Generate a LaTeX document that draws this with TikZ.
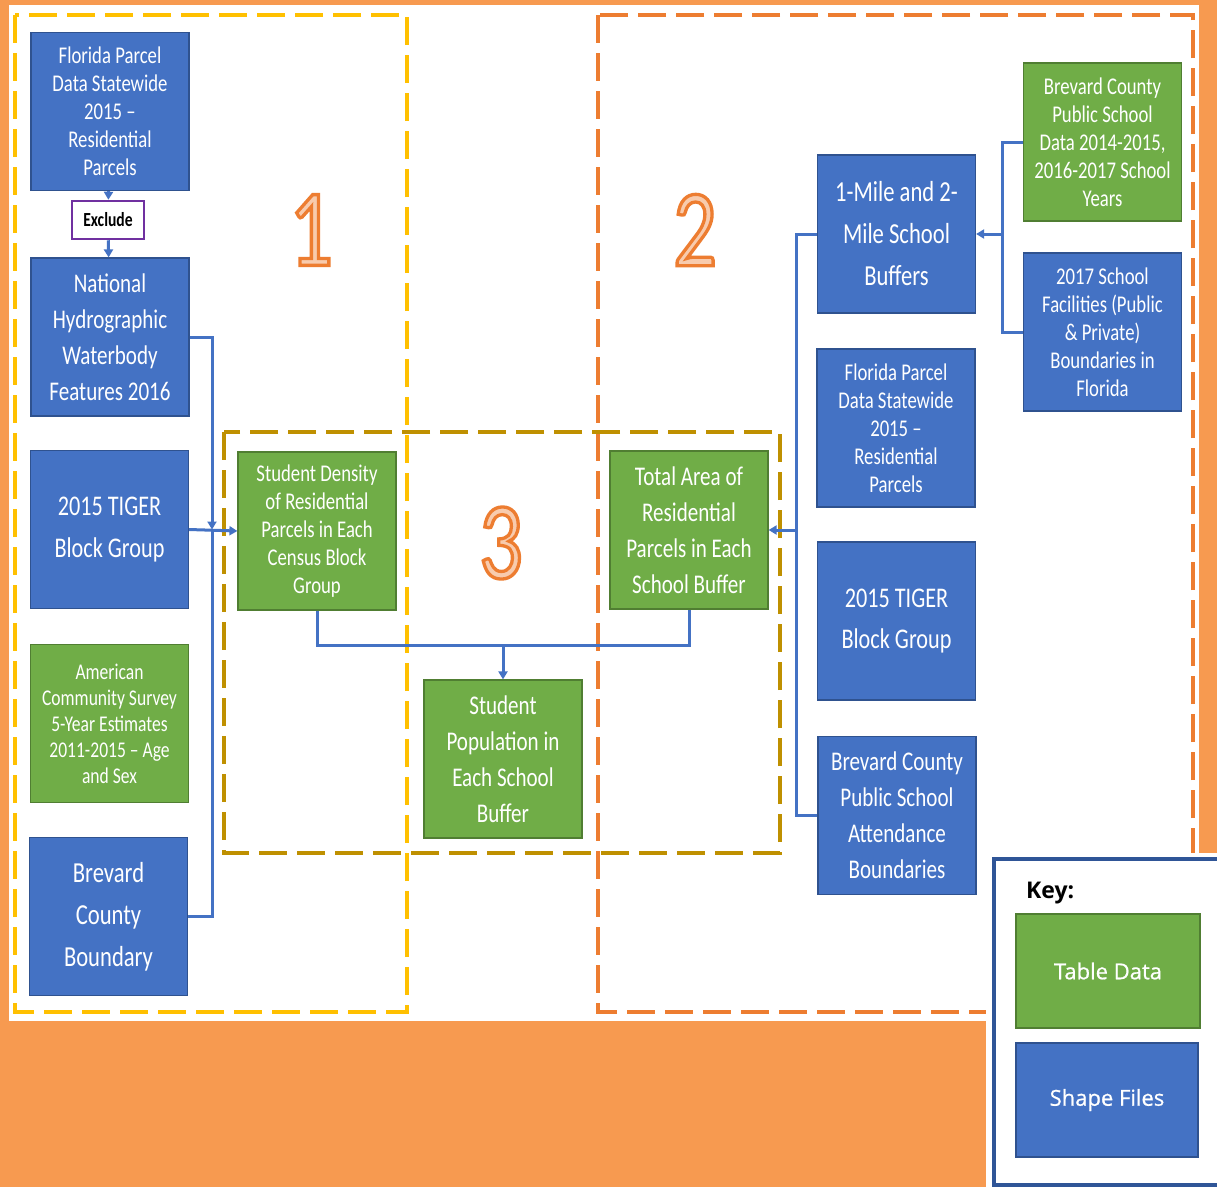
\documentclass[tikz,border=0pt]{standalone}
\usepackage{fontspec}
\setmainfont{Carlito}
\newfontfamily\cond{Carlito}[FakeStretch=0.78]
\newfontfamily\numfont{Carlito}[FakeStretch=0.78, FakeBold=3]
\newfontfamily\keyfont{Open Sans}
\newfontfamily\keysemi{Open Sans}[FakeBold=0.8]
\usetikzlibrary{arrows.meta}
\definecolor{bgorange}{HTML}{F79A50}
\definecolor{dashyellow}{HTML}{FFC000}
\definecolor{dashorange}{HTML}{ED7D31}
\definecolor{dashgold}{HTML}{BF9000}
\definecolor{boxblue}{HTML}{4472C4}
\definecolor{blueborder}{HTML}{2F528F}
\definecolor{boxgreen}{HTML}{70AD47}
\definecolor{greenborder}{HTML}{507E32}
\definecolor{lineblue}{HTML}{4472C4}
\definecolor{keyborder}{HTML}{2F5597}
\definecolor{purpleborder}{HTML}{7030A0}
\definecolor{numfill}{HTML}{F8CBAD}
\newcommand{\outlinedigit}[1]{{\numfont\color{numfill}\special{pdf:literal direct 0.929 0.490 0.192 RG}#1}}
\tikzset{
  region/.style={line width=4pt, dash pattern=on 28pt off 10pt},
  box/.style={minimum width=158pt, minimum height=158pt, inner sep=2pt, align=center, text=white, line width=1.2pt},
  bluebox/.style={box, fill=boxblue, draw=blueborder},
  greenbox/.style={box, fill=boxgreen, draw=greenborder},
  conn/.style={draw=lineblue, line width=3pt},
  arr/.style={conn, -{Triangle[length=8pt,width=9pt]}},
  fa/.style={font={\cond\fontsize{24}{28}\selectfont}},
  fb/.style={font={\cond\fontsize{27}{36}\selectfont}},
  fc/.style={font={\cond\fontsize{28.5}{41.5}\selectfont}},
  fd/.style={font={\cond\fontsize{22.5}{26}\selectfont}},
  bignum/.style={font={\fontsize{110}{110}\selectfont}, inner sep=0pt},
  keybox/.style={line width=1.2pt, minimum height=114pt, text=white, font={\keysemi\fontsize{22}{24}\selectfont}},
}
\begin{document}
\begin{tikzpicture}[x=1pt,y=-1pt]
\useasboundingbox (0,0) rectangle (1217,1187);
\fill[bgorange] (0,0) rectangle (1217,1187);
\fill[white] (9,5) rectangle (1199,1021);

% region frames
\draw[region, dashyellow] (15,15) rectangle (407,1012);
\draw[region, dashorange] (598,15) rectangle (1193,1012);
\draw[region, dashgold] (224,432) rectangle (780,853);

% key panel (on top of the frames)
\fill[white] (986,853) rectangle (1217,1187);
\draw[keyborder, line width=4pt] (1220,859) -- (994,859) -- (994,1185) -- (1220,1185);

% big numbers
\node[bignum] (num1) at (311,230) {\outlinedigit{1}};
\node[bignum] (num2) at (695,230) {\outlinedigit{2}};
\node[bignum] (num3) at (501,543) {\outlinedigit{3}};

% nodes
\node[bluebox, fa] (A) at (110,111.5) {Florida Parcel\\Data Statewide\\2015 –\\Residential\\Parcels};
\node[draw=purpleborder, fill=white, line width=2.5pt, minimum width=72pt, minimum height=38pt, inner sep=0pt,
      font={\cond\bfseries\fontsize{20}{22}\selectfont}] (X) at (108,220) {Exclude};
\node[bluebox, fb] (B) at (110,337) {National\\Hydrographic\\Waterbody\\Features 2016};
\node[bluebox, fc] (C) at (109.5,529.5) {2015 TIGER\\Block Group};
\node[greenbox, fd] (D) at (109.5,723.5) {American\\Community Survey\\5-Year Estimates\\2011-2015 – Age\\and Sex};
\node[bluebox, font={\cond\fontsize{29}{42}\selectfont}] (E) at (108.5,916.5) {Brevard\\County\\Boundary};

\node[greenbox, fa] (F) at (317,531) {Student Density\\of Residential\\Parcels in Each\\Census Block\\Group};
\node[greenbox, fb] (G) at (689,530) {Total Area of\\Residential\\Parcels in Each\\School Buffer};
\node[greenbox, fb] (H) at (503,759) {Student\\Population in\\Each School\\Buffer};

\node[bluebox, font={\cond\fontsize{29}{42}\selectfont}] (I) at (896.5,234) {1-Mile and 2-\\Mile School\\Buffers};
\node[bluebox, fa] (J) at (896,428) {Florida Parcel\\Data Statewide\\2015 –\\Residential\\Parcels};
\node[bluebox, fc] (K) at (896.5,621) {2015 TIGER\\Block Group};
\node[bluebox, fb] (L) at (897,815.5) {Brevard County\\Public School\\Attendance\\Boundaries};
\node[greenbox, fa] (M) at (1102.5,142) {Brevard County\\Public School\\Data 2014-2015,\\2016-2017 School\\Years};
\node[bluebox, fa] (N) at (1102.5,332) {2017 School\\Facilities (Public\\\& Private)\\Boundaries in\\Florida};

% key
\node[anchor=west, inner sep=0pt, font={\keyfont\bfseries\fontsize{23}{24}\selectfont}] (keytitle) at (1026,893) {Key:};
\node[keybox, fill=boxgreen, draw=greenborder, minimum width=184pt] (keygreen) at (1108,971) {Table Data};
\node[keybox, fill=boxblue, draw=blueborder, minimum width=182pt] (keyblue) at (1107,1100) {Shape Files};

% connectors
\coordinate (j1) at (212,529.5);
\coordinate (j2) at (503,645);
\coordinate (j3) at (1002,234);
\coordinate (j4) at (796,530);

\draw[arr] (A) -- (X);
\draw[arr] (X) -- (B);
\draw[arr] (B.east) -| (j1);
\draw[conn] (E.east) -| (j1);
\draw[arr] (C.east) -- (F.west);
\draw[conn] (F.south) |- (j2) -| (G.south);
\draw[arr] (j2) -- (H.north);
\draw[conn] (M.west) -| (j3);
\draw[conn] (N.west) -| (j3);
\draw[arr] (j3) -- (I.east);
\draw[conn] (I.west) -| (j4);
\draw[conn] (L.west) -| (j4);
\draw[arr] (j4) -- (G.east);
\end{tikzpicture}
\end{document}
